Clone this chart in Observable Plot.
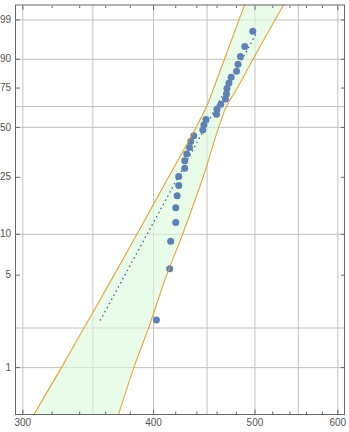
<!DOCTYPE html>
<html>
<head>
<meta charset="utf-8">
<script src="https://cdn.jsdelivr.net/npm/d3@7"></script>
<script src="https://cdn.jsdelivr.net/npm/@observablehq/plot@0.6"></script>
<style>
  html, body { margin: 0; padding: 0; background: #fff; }
  #chart svg { display: block; overflow: visible; }
</style>
</head>
<body>
<div id="chart"></div>
<script>
// Sample values (x) and their plotting positions (cumulative %)
const pointX = [402.5, 414.5, 415.4, 420.0, 420.0, 421.3, 422.8, 422.8, 428.4, 428.4, 430.3, 432.9, 434.1, 437.0, 445.8, 446.9, 448.9, 459.4, 459.9, 463.8, 468.6, 469.6, 470.1, 472.2, 474.5, 480.1, 481.7, 484.3, 488.9, 497.6];
const pointP = [2.30, 5.59, 8.88, 12.17, 15.46, 18.75, 22.04, 25.33, 28.62, 31.91, 35.20, 38.49, 41.78, 45.07, 48.36, 51.64, 54.93, 58.22, 61.51, 64.80, 68.09, 71.38, 74.67, 77.96, 81.25, 84.54, 87.83, 91.12, 94.41, 97.70];

// Fitted Weibull line (dotted)
const fitX = [355.9, 502.7];
const fitP = [2.30, 97.70];

// Confidence band edges
const bandP   = [0.3, 1, 2, 5, 10, 25, 50, 63.21, 75, 90, 99, 99.9];
const bandLoX = [298.9, 326.6, 343.2, 366.7, 385.6, 413.3, 439.2, 449.5, 456.7, 467.5, 482.7, 491.9];
const bandHiX = [364.8, 383.0, 395.6, 411.7, 426.4, 446.0, 461.6, 469.5, 480.9, 497.9, 522.5, 537.8];

// Axes
const xDomain = [295.2, 608.9];
const yDomainP = [0.439, 99.75];
const xTickMajor = [300, 400, 500, 600];
const xTickMinor = [320, 340, 360, 380, 420, 440, 460, 480, 520, 540, 560, 580];
const xGrid = [300, 350, 400, 450, 500, 550, 600];
const yTickP = [1, 5, 10, 25, 50, 75, 90, 99];
const yGridP = [1, 2, 10, 50, 63.21, 90, 99];

const weib = p => Math.log(-Math.log(1 - p / 100));

const points = pointX.map((x, i) => ({x, p: pointP[i]}));
const fitRows = fitX.map((x, i) => ({x, p: fitP[i]}));
const band = bandP.map((p, i) => ({p, lo: bandLoX[i], hi: bandHiX[i]}));
const yTickW = yTickP.map(weib);
const yLabel = w => {
  let best = 0;
  yTickW.forEach((v, i) => { if (Math.abs(v - w) < Math.abs(yTickW[best] - w)) best = i; });
  return String(yTickP[best]);
};

const blue = "#5E81B5";
const fitColor = "#4a6a9a";
const orange = "#E19C24";
const textColor = "#555";
const gridColor = "#c2c2c2";
const frameColor = "#666";

const chart = Plot.plot({
  width: 349,
  height: 432,
  marginLeft: 15,
  marginRight: 5,
  marginTop: 4.5,
  marginBottom: 18,
  style: {fontFamily: "'Liberation Sans', Arial, sans-serif", fontSize: "10px", background: "#fff"},
  x: {type: "log", domain: xDomain},
  y: {type: "linear", domain: yDomainP.map(weib)},
  marks: [
    Plot.ruleX(xGrid, {stroke: gridColor, strokeWidth: 1}),
    Plot.ruleY(yGridP.map(weib), {stroke: gridColor, strokeWidth: 1}),
    Plot.areaX(band, {y: d => weib(d.p), x1: "lo", x2: "hi", fill: "#daf8da", fillOpacity: 0.6, curve: "catmull-rom", clip: true}),
    Plot.line(fitRows, {x: "x", y: d => weib(d.p), stroke: fitColor, strokeWidth: 1.6, strokeDasharray: "0.1 4.6", strokeLinecap: "round"}),
    Plot.dot(points, {x: "x", y: d => weib(d.p), r: 3.5, fill: blue, stroke: "none"}),
    Plot.line(band, {x: "lo", y: d => weib(d.p), stroke: orange, strokeWidth: 1.1, strokeOpacity: 0.9, curve: "catmull-rom", clip: true}),
    Plot.line(band, {x: "hi", y: d => weib(d.p), stroke: orange, strokeWidth: 1.1, strokeOpacity: 0.9, curve: "catmull-rom", clip: true}),
    // bottom axis ticks and labels
    Plot.axisX(xTickMajor, {anchor: "bottom", tickSize: -4.5, tickFormat: () => "", label: null, stroke: frameColor}),
    Plot.axisX(xTickMinor, {anchor: "bottom", tickSize: -2.5, tickFormat: () => "", label: null, stroke: frameColor}),
    Plot.text(xTickMajor, {x: d => d, frameAnchor: "bottom", lineAnchor: "top", dy: 4.5, text: d => String(d), fill: textColor, fontSize: 10}),
    // top axis
    Plot.axisX(xTickMajor, {anchor: "top", tickSize: -4.5, tickFormat: () => "", label: null, stroke: frameColor}),
    Plot.axisX(xTickMinor, {anchor: "top", tickSize: -2.5, tickFormat: () => "", label: null, stroke: frameColor}),
    // left axis
    Plot.axisY(yTickW, {anchor: "left", tickSize: -5, tickPadding: 9.5, tickFormat: yLabel, label: null, color: textColor, stroke: frameColor}),
    // right axis
    Plot.axisY(yTickW, {anchor: "right", tickSize: -4, tickFormat: () => "", label: null, stroke: frameColor}),
    Plot.frame({stroke: frameColor, strokeWidth: 1})
  ]
});
document.getElementById("chart").appendChild(chart);
</script>
</body>
</html>
